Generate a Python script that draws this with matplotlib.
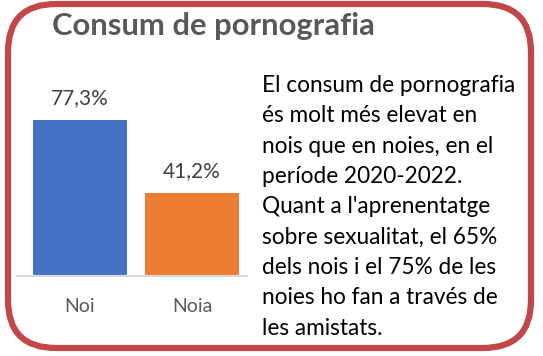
import matplotlib.pyplot as plt
from matplotlib.patches import FancyBboxPatch
from matplotlib.transforms import IdentityTransform

# data
categories = ['Noi', 'Noia']
values = [77.3, 41.2]
labels = ['77,3%', '41,2%']
colors = ['#4472C4', '#ED7D31']
title = 'Consum de pornografia'
note = ("El consum de pornografia\n"
        "és molt més elevat en\n"
        "nois que en noies, en el\n"
        "període 2020-2022.\n"
        "Quant a l'aprenentatge\n"
        "sobre sexualitat, el 65%\n"
        "dels nois i el 75% de les\n"
        "noies ho fan a través de\n"
        "les amistats.")

W, H = 543, 356
plt.rcParams['font.family'] = ['Lato', 'DejaVu Sans']
fig = plt.figure(figsize=(W / 100, H / 100), dpi=100)

# rounded red frame (pixel coords)
frame = FancyBboxPatch((8, H - 348), 523, 344,
                       boxstyle='round,pad=0,rounding_size=48',
                       transform=IdentityTransform(), fill=False,
                       edgecolor='#C0484A', linewidth=4.5, zorder=5)
fig.patches.append(frame)

fig.text(52 / W, 1 - 26 / H, title, fontsize=22.3, fontweight='bold',
         color='#595959', va='center', ha='left')

# bar axes, placed in pixels
ymax = 90
base = 276
ax_h = 156 / 77.3 * ymax
ax = fig.add_axes([17 / W, 1 - base / H, 230 / W, ax_h / H])
ax.bar(range(len(categories)), values, width=0.84, color=colors, zorder=2)
ax.set_xlim(-0.5625, 1.491)
ax.set_ylim(0, ymax)
for i, (v, lab) in enumerate(zip(values, labels)):
    ax.text(i, v + 8, lab, ha='center', va='baseline', fontsize=15,
            color='#404040')
for s in ['top', 'right', 'left']:
    ax.spines[s].set_visible(False)
ax.spines['bottom'].set_color('#D9D9D9')
ax.spines['bottom'].set_linewidth(1.5)
ax.set_yticks([])
ax.set_xticks(range(len(categories)))
ax.set_xticklabels(categories, fontsize=14, color='#595959')
ax.tick_params(axis='x', length=0, pad=16)
ax.patch.set_alpha(0)

fig.text(262 / W, 1 - 75 / H, note, fontsize=16.3, color='black',
         va='top', ha='left', linespacing=1.55)

fig.savefig('out.png', dpi=100)
